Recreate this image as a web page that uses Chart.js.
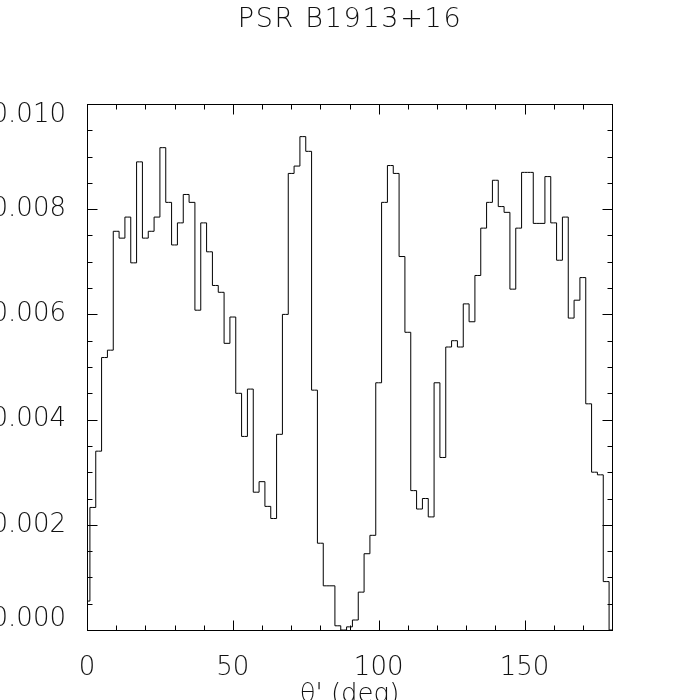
<!DOCTYPE html>
<html>
<head>
<meta charset="utf-8">
<script src="https://cdn.jsdelivr.net/npm/chart.js@4.4.1/dist/chart.umd.min.js"></script>
<style>
  html, body { margin: 0; padding: 0; background: #fff; overflow: hidden; }
  #wrap { width: 700px; height: 720px; }
</style>
</head>
<body>
<div id="wrap"><canvas id="pulsarChart" width="700" height="720"></canvas></div>
<script>
// bin centres (deg) and histogram values
const angles = [
    0, 2, 4, 6, 8, 10, 12, 14, 16, 18,
    20, 22, 24, 26, 28, 30, 32, 34, 36, 38,
    40, 42, 44, 46, 48, 50, 52, 54, 56, 58,
    60, 62, 64, 66, 68, 70, 72, 74, 76, 78,
    80, 82, 84, 86, 88, 90, 92, 94, 96, 98,
    100, 102, 104, 106, 108, 110, 112, 114, 116, 118,
    120, 122, 124, 126, 128, 130, 132, 134, 136, 138,
    140, 142, 144, 146, 148, 150, 152, 154, 156, 158,
    160, 162, 164, 166, 168, 170, 172, 174, 176, 178,
    180
];
const frequency = [
    0.00055, 0.00233, 0.00340, 0.00518, 0.00532, 0.00758, 0.00745, 0.00785, 0.00698, 0.00890,
    0.00745, 0.00758, 0.00785, 0.00917, 0.00813, 0.00732, 0.00774, 0.00828, 0.00813, 0.00608,
    0.00774, 0.00719, 0.00655, 0.00642, 0.00545, 0.00595, 0.00450, 0.00368, 0.00458, 0.00262,
    0.00282, 0.00235, 0.00212, 0.00372, 0.00600, 0.00868, 0.00882, 0.00938, 0.00910, 0.00456,
    0.00165, 0.00084, 0.00084, 0.00008, 0.00000, 0.00006, 0.00019, 0.00072, 0.00145, 0.00180,
    0.00470, 0.00813, 0.00883, 0.00868, 0.00710, 0.00566, 0.00265, 0.00230, 0.00250, 0.00215,
    0.00470, 0.00328, 0.00538, 0.00550, 0.00538, 0.00620, 0.00586, 0.00674, 0.00764, 0.00813,
    0.00855, 0.00805, 0.00794, 0.00648, 0.00764, 0.00870, 0.00870, 0.00773, 0.00773, 0.00862,
    0.00774, 0.00703, 0.00785, 0.00593, 0.00627, 0.00670, 0.00430, 0.00300, 0.00295, 0.00092,
    0.00000
];

const xMajorTicks = [0, 50, 100, 150];
const xMinorTicks = [10, 20, 30, 40, 60, 70, 80, 90, 110, 120, 130, 140, 160, 170];
const yMajorTicks = [0, 0.002, 0.004, 0.006, 0.008, 0.010];
const yMinorStep = 0.0005;

const xMin = 0, xMax = 180;
const yMin = 0, yMax = 0.010;

const fontFamily = "'DejaVu Sans', 'Noto Sans', sans-serif";

// IDL style box with inward tick marks
const boxTicks = {
    id: 'boxTicks',
    afterDraw(chart) {
        const ctx = chart.ctx;
        const xs = chart.scales.x, ys = chart.scales.y;
        const a = chart.chartArea;
        const l = Math.round(a.left) + 0.5, r = Math.round(a.right) + 0.5;
        const t = Math.round(a.top) + 0.5, b = Math.round(a.bottom) + 0.5;
        ctx.save();
        ctx.strokeStyle = '#000';
        ctx.lineWidth = 1;
        ctx.strokeRect(l, t, r - l, b - t);
        ctx.beginPath();
        const xTick = (v, len) => {
            const px = Math.round(xs.getPixelForValue(v)) + 0.5;
            ctx.moveTo(px, b); ctx.lineTo(px, b - len);
            ctx.moveTo(px, t); ctx.lineTo(px, t + len);
        };
        const yTick = (v, len) => {
            const py = Math.round(ys.getPixelForValue(v)) + 0.5;
            ctx.moveTo(l, py); ctx.lineTo(l + len, py);
            ctx.moveTo(r, py); ctx.lineTo(r - len, py);
        };
        xMajorTicks.forEach(v => xTick(v, 10));
        xMinorTicks.forEach(v => xTick(v, 5));
        yMajorTicks.forEach(v => yTick(v, 10));
        for (let v = yMin + yMinorStep; v < yMax - 1e-9; v += yMinorStep) {
            yTick(v, 5);
        }
        ctx.stroke();
        ctx.restore();
    }
};

// a little extra spacing for the title only (scale text is drawn later, with z=1)
const titleSpacing = {
    id: 'titleSpacing',
    beforeDraw(chart) { chart.ctx.letterSpacing = '1.7px'; },
    beforeDatasetsDraw(chart) { chart.ctx.letterSpacing = '0px'; }
};

function drawPulsarChart() {
    const ctx = document.getElementById('pulsarChart').getContext('2d');
    new Chart(ctx, {
        type: 'line',
        data: {
            datasets: [{
                label: 'PSR B1913+16',
                data: angles.map((a, i) => ({x: a, y: frequency[i]})),
                stepped: 'middle',
                borderColor: '#000',
                borderWidth: 1,
                pointRadius: 0,
                fill: false
            }]
        },
        options: {
            responsive: false,
            animation: false,
            events: [],
            layout: {padding: 0},
            plugins: {
                legend: {display: false},
                tooltip: {enabled: false},
                title: {
                    display: true,
                    text: 'PSR B1913+16',
                    color: '#111',
                    font: {family: fontFamily, size: 27, weight: 200, lineHeight: 1.2},
                    padding: {top: 4, bottom: 67.6}
                }
            },
            scales: {
                x: {
                    type: 'linear',
                    min: xMin,
                    max: xMax,
                    afterBuildTicks: s => { s.ticks = xMajorTicks.map(v => ({value: v})); },
                    afterFit: s => { s.height = 90; },
                    grid: {display: false, z: 1},
                    border: {display: false},
                    ticks: {
                        z: 1,
                        color: '#111',
                        padding: 15,
                        maxRotation: 0,
                        font: {family: fontFamily, size: 26, weight: 200, lineHeight: 1.2}
                    },
                    title: {
                        display: true,
                        text: "θ' (deg)",
                        color: '#111',
                        font: {family: fontFamily, size: 26, weight: 200, lineHeight: 1.2},
                        padding: {top: 0, bottom: 9}
                    }
                },
                y: {
                    type: 'linear',
                    min: yMin,
                    max: yMax,
                    afterBuildTicks: s => { s.ticks = yMajorTicks.map(v => ({value: v})); },
                    afterFit: s => { s.width = 87; },
                    grid: {display: false, z: 1},
                    border: {display: false},
                    ticks: {
                        z: 1,
                        color: '#111',
                        padding: 13,
                        font: {family: fontFamily, size: 26, weight: 200, lineHeight: '22px'},
                        callback: v => {
                            const s = v.toFixed(3);
                            // end labels sit inside the box, as in the original
                            if (v === yMax) return ['', s];
                            if (v === yMin) return [s, ''];
                            return s;
                        }
                    }
                },
                // empty right-hand axis, only keeps the margin right of the box
                yRight: {
                    type: 'linear',
                    position: 'right',
                    min: yMin,
                    max: yMax,
                    afterFit: s => { s.width = 88; },
                    grid: {display: false},
                    border: {display: false},
                    ticks: {display: false}
                }
            }
        },
        plugins: [titleSpacing, boxTicks]
    });
}

drawPulsarChart();
</script>
</body>
</html>
